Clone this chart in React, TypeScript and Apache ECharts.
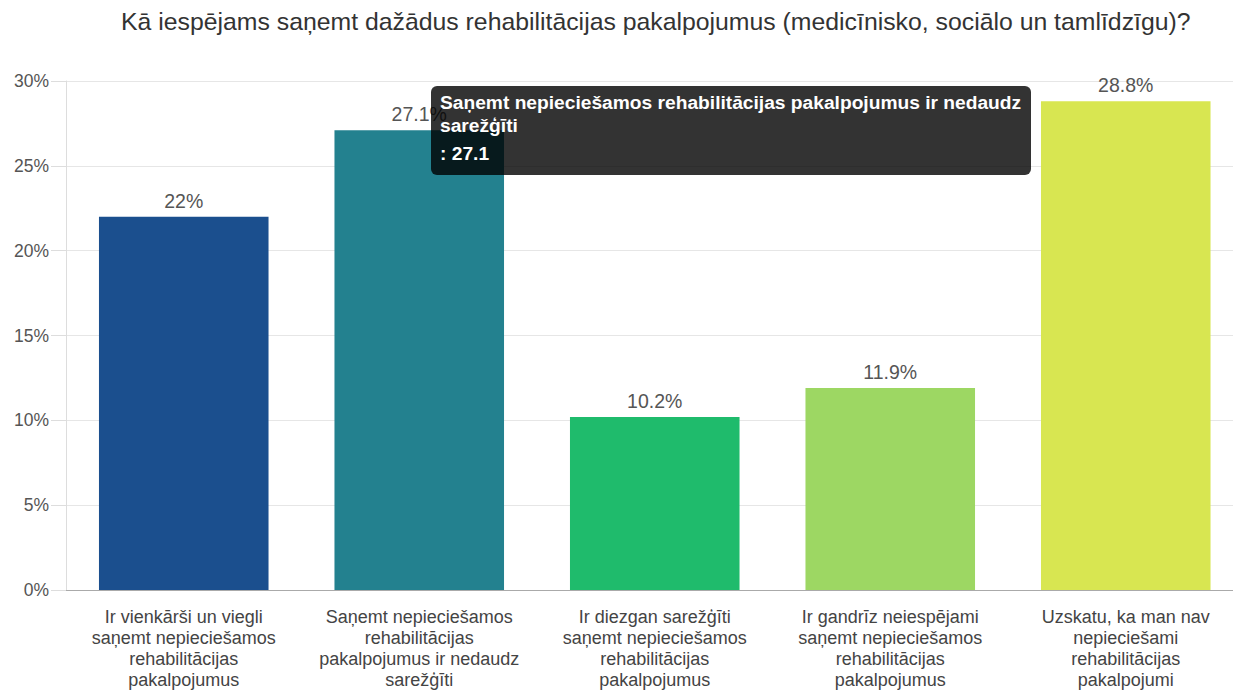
import React, { useEffect, useRef } from "react";
import * as echarts from "echarts";

const title = "Kā iespējams saņemt dažādus rehabilitācijas pakalpojumus (medicīnisko, sociālo un tamlīdzīgu)?";
const categories = [
  "Ir vienkārši un viegli\nsaņemt nepieciešamos\nrehabilitācijas\npakalpojumus",
  "Saņemt nepieciešamos\nrehabilitācijas\npakalpojumus ir nedaudz\nsarežģīti",
  "Ir diezgan sarežģīti\nsaņemt nepieciešamos\nrehabilitācijas\npakalpojumus",
  "Ir gandrīz neiespējami\nsaņemt nepieciešamos\nrehabilitācijas\npakalpojumus",
  "Uzskatu, ka man nav\nnepieciešami\nrehabilitācijas\npakalpojumi",
];
const values = [22, 27.1, 10.2, 11.9, 28.8];
const colors = ["#1b4f8e", "#23818f", "#1fbb6c", "#9dd763", "#d8e651"];
const yTicks = { min: 0, max: 30, interval: 5 };
const tooltipIndex = 1;

const FONT = "'Liberation Sans', Arial, sans-serif";

export default function App() {
  const ref = useRef<HTMLDivElement>(null);
  useEffect(() => {
    document.body.style.margin = "0";
    const chart = echarts.init(ref.current!, null, { renderer: "svg" });
    const words = categories[tooltipIndex].replace(/\n/g, " ").split(" ");
    const tipTitle = words.slice(0, -1).join(" ") + "\n" + words[words.length - 1];
    chart.setOption({
      animation: false,
      backgroundColor: "#ffffff",
      textStyle: { fontFamily: FONT },
      title: {
        text: title,
        left: 116,
        top: 4,
        textStyle: { fontSize: 24.8, fontWeight: "normal", color: "#333", fontFamily: FONT },
      },
      grid: { left: 66, top: 81, width: 1177.5, bottom: 106, containLabel: false },
      xAxis: {
        type: "category",
        data: categories,
        axisLine: { show: true, lineStyle: { color: "#aaa" } },
        axisTick: { show: false },
        axisLabel: {
          interval: 0,
          margin: 16,
          fontSize: 18,
          lineHeight: 21,
          color: "#444",
          fontFamily: FONT,
        },
      },
      yAxis: {
        type: "value",
        min: yTicks.min,
        max: yTicks.max,
        interval: yTicks.interval,
        axisLine: { show: true, lineStyle: { color: "#ddd" } },
        axisTick: { show: true, length: 15, lineStyle: { color: "#ddd" } },
        splitLine: { show: true, lineStyle: { color: "#e6e6e6" } },
        axisLabel: {
          formatter: "{value}%",
          fontSize: 17.5,
          color: "#555",
          margin: 17,
          fontFamily: FONT,
        },
      },
      series: [
        {
          type: "bar",
          barWidth: "72%",
          z: 2,
          data: values.map((v, i) => ({ value: v, itemStyle: { color: colors[i] } })),
          label: {
            show: true,
            position: "top",
            distance: 6,
            formatter: "{c}%",
            fontSize: 19.5,
            color: "#555",
            fontFamily: FONT,
          },
        },
      ],
      graphic: [
        {
          type: "rect",
          z: 100,
          zlevel: 1,
          shape: { x: 431, y: 86, width: 600, height: 89, r: 6 },
          style: { fill: "rgba(0,0,0,0.8)" },
        },
        {
          type: "text",
          z: 101,
          zlevel: 1,
          x: 440,
          y: 91,
          style: {
            text: tipTitle,
            fill: "#fff",
            font: `bold 19.2px ${FONT}`,
            lineHeight: 23,
          },
        },
        {
          type: "text",
          z: 101,
          zlevel: 1,
          x: 440,
          y: 142,
          style: {
            text: ": " + values[tooltipIndex],
            fill: "#fff",
            font: `bold 19.2px ${FONT}`,
            lineHeight: 23,
          },
        },
      ],
    });
    return () => chart.dispose();
  }, []);
  return (
    <div style={{ width: 1233, height: 696, overflow: "hidden" }}>
      <div ref={ref} style={{ width: 1260, height: 696 }} />
    </div>
  );
}
